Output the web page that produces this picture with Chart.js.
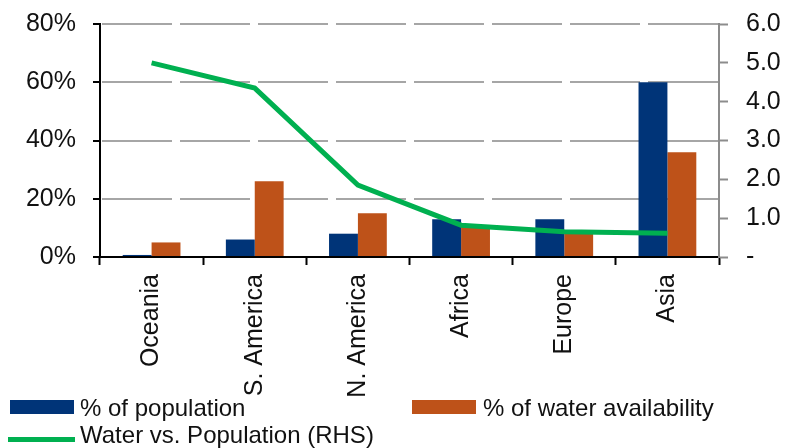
<!DOCTYPE html>
<html>
<head>
<meta charset="utf-8">
<script src="https://cdn.jsdelivr.net/npm/chart.js@4"></script>
<style>
  html, body { margin: 0; padding: 0; background: #fff; }
  .wrap { position: relative; width: 788px; height: 448px; overflow: hidden; }
  canvas { display: block; }
  .legend { position: absolute; font: 24px "Liberation Sans", Arial, sans-serif; line-height: 24px; color: #111; white-space: nowrap; }
  .swatch { position: absolute; }
</style>
</head>
<body>
<div class="wrap">
  <canvas id="chart" width="788" height="448"></canvas>
  <div class="swatch" style="left:10px;top:400px;width:64px;height:14px;background:#003478"></div>
  <div class="legend" style="left:80px;top:396px">% of population</div>
  <div class="swatch" style="left:412px;top:400px;width:64px;height:14px;background:#BE5219"></div>
  <div class="legend" style="left:483px;top:396px">% of water availability</div>
  <div class="swatch" style="left:8px;top:437px;width:67px;height:5px;background:#00B050"></div>
  <div class="legend" style="left:80px;top:423px">Water vs. Population (RHS)</div>
</div>
<script>
  // Data
  const categories = ['Oceania', 'S. America', 'N. America', 'Africa', 'Europe', 'Asia'];
  const populationShare = [0.7, 6, 8, 13, 13, 60];      // % of population
  const waterShare = [5, 26, 15, 11, 8, 36];             // % of water availability
  const waterVsPopulation = [5.0, 4.35, 1.85, 0.82, 0.65, 0.61]; // RHS ratio
  const leftTickLabels = ['0%', '20%', '40%', '60%', '80%'];
  const rightTickLabels = ['-', '1.0', '2.0', '3.0', '4.0', '5.0', '6.0'];

  const font = { family: '"Liberation Sans", Arial, sans-serif', size: 25 };
  const textColor = '#111';

  // vaste plot-rand: 100..719 x 24..257
  function fixVertical(width) {
    return (s) => { s.width = width; s.paddingTop = 0; s.paddingBottom = 0; };
  }

  // gestreepte horizontale gridlijnen op de ticks van de linker as
  const dashedGrid = {
    id: 'dashedGrid',
    beforeDatasetsDraw(chart) {
      const { ctx, chartArea } = chart;
      const scale = chart.scales.y;
      ctx.save();
      ctx.strokeStyle = '#A6A6A6';
      ctx.lineWidth = 2;
      ctx.setLineDash([70, 8]);
      scale.ticks.forEach((t) => {
        if (t.value === 0) return;
        const py = Math.round(scale.getPixelForValue(t.value));
        ctx.beginPath();
        ctx.moveTo(chartArea.left + 2, py);
        ctx.lineTo(chartArea.right, py);
        ctx.stroke();
      });
      ctx.restore();
    },
  };

  new Chart(document.getElementById('chart'), {
    data: {
      labels: categories,
      datasets: [
        {
          type: 'line',
          label: 'Water vs. Population (RHS)',
          data: waterVsPopulation,
          yAxisID: 'y1',
          borderColor: '#00B050',
          backgroundColor: '#00B050',
          borderWidth: 5,
          pointRadius: 0,
          tension: 0,
          fill: false,
          order: 0,
        },
        {
          type: 'bar',
          label: '% of population',
          data: populationShare,
          yAxisID: 'y',
          backgroundColor: '#003478',
          barPercentage: 1,
          categoryPercentage: 0.56,
          order: 1,
        },
        {
          type: 'bar',
          label: '% of water availability',
          data: waterShare,
          yAxisID: 'y',
          backgroundColor: '#BE5219',
          barPercentage: 1,
          categoryPercentage: 0.56,
          order: 1,
        },
      ],
    },
    options: {
      responsive: false,
      animation: false,
      layout: { padding: { top: 24, left: 0, right: 0, bottom: 0 } },
      plugins: { legend: { display: false }, tooltip: { enabled: false } },
      scales: {
        x: {
          offset: true,
          grid: { offset: true, drawOnChartArea: false, drawTicks: true, tickLength: 8, tickColor: '#000', tickWidth: 2 },
          border: { color: '#000', width: 2 },
          ticks: { color: textColor, font, minRotation: 90, maxRotation: 90, padding: 9, autoSkip: false },
          afterFit: (s) => { s.height = 191; },
        },
        y: {
          position: 'left',
          min: 0,
          max: 80,
          grid: { drawOnChartArea: false, color: '#A6A6A6', lineWidth: 2, tickLength: 7, tickColor: '#000', tickWidth: 2 },
          border: { color: '#000', width: 2 },
          ticks: { stepSize: 20, color: textColor, font, padding: 17, callback: (v, i) => leftTickLabels[i] },
          afterFit: fixVertical(100),
        },
        y1: {
          position: 'right',
          min: 0,
          max: 6,
          grid: { drawOnChartArea: false, tickLength: 9, tickColor: '#8C8C8C', tickWidth: 2 },
          border: { color: '#8C8C8C', width: 2 },
          ticks: { stepSize: 1, color: textColor, font, padding: 18, callback: (v, i) => rightTickLabels[i] },
          afterFit: fixVertical(69),
        },
      },
    },
    plugins: [dashedGrid],
  });
</script>
</body>
</html>
